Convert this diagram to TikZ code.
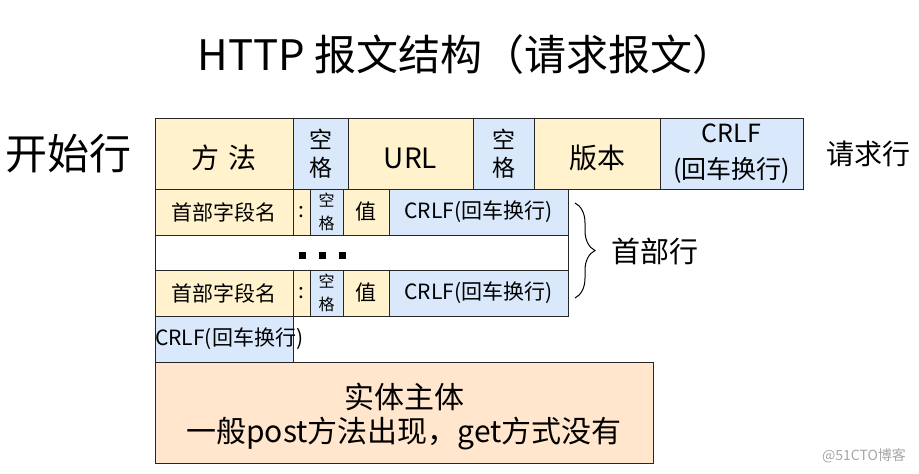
\documentclass[tikz,border=0pt]{standalone}
\usepackage{fontspec}
\setmainfont{Noto Sans CJK SC}
\usetikzlibrary{positioning,decorations.pathreplacing}
\definecolor{yel}{HTML}{FFF2CC}
\definecolor{blu}{HTML}{DAE8FC}
\definecolor{pch}{HTML}{FFE6CC}
\tikzset{
  cell/.style={draw=black!85, line width=1pt, inner sep=0pt, outer sep=0pt, align=center, minimum height=#1},
  ycell/.style={cell=#1, fill=yel},
  bcell/.style={cell=#1, fill=blu},
  fbig/.style={font=\fontsize{28}{32}\selectfont, text height=32pt, text depth=3pt},
  fmid/.style={font=\fontsize{21}{24}\selectfont},
  fsp/.style={font=\fontsize{23}{28}\selectfont},
  fsmall/.style={font=\fontsize{16}{23}\selectfont},
}

\begin{document}
\begin{tikzpicture}[x=1pt, y=-1pt, >=latex]
  \useasboundingbox (0,0) rectangle (919,474);

  \node (title) at (466,55) {\fontsize{42}{46}\selectfont HTTP 报文结构（请求报文）};

  % start line
  \node[ycell=71, minimum width=138, anchor=north west, fbig] (method) at (155,118) {方\hspace{0.35em}法};
  \node[bcell=71, minimum width=55, right=0pt of method, fsp] (sp1) {空\\格};
  \node[ycell=71, minimum width=125, right=0pt of sp1, fbig] (url) {URL};
  \node[bcell=71, minimum width=61, right=0pt of url, fsp] (sp2) {空\\格};
  \node[ycell=71, minimum width=126, right=0pt of sp2, fbig] (ver) {版本};
  \node[bcell=71, minimum width=143, right=0pt of ver, font=\fontsize{25}{36}\selectfont] (crlfa) {CRLF\\(回车换行)};

  % header lines
  \node[ycell=46, minimum width=138, below right=0pt and 0pt of method.south west, fmid] (hname) {首部字段名};
  \node[ycell=46, minimum width=17, right=0pt of hname, fmid] (hcol) {:};
  \node[bcell=46, minimum width=33, right=0pt of hcol, fsmall] (hsp) {空\\格};
  \node[ycell=46, minimum width=46, right=0pt of hsp, fmid] (hval) {值};
  \node[bcell=46, minimum width=179, right=0pt of hval, fmid] (hcrlf) {CRLF(回车换行)};

  \node[cell=35, fill=white, minimum width=413, below right=0pt and 0pt of hname.south west] (dots) {};
  \foreach \x in {302,322,342}
    \fill (\x-3.5,251.5) rectangle +(7,7);

  \node[ycell=46, minimum width=138, below right=0pt and 0pt of dots.south west, fmid] (kname) {首部字段名};
  \node[ycell=46, minimum width=17, right=0pt of kname, fmid] (kcol) {:};
  \node[bcell=46, minimum width=33, right=0pt of kcol, fsmall] (ksp) {空\\格};
  \node[ycell=46, minimum width=46, right=0pt of ksp, fmid] (kval) {值};
  \node[bcell=46, minimum width=179, right=0pt of kval, fmid] (kcrlf) {CRLF(回车换行)};

  % empty line
  \node[bcell=46, minimum width=138, below right=0pt and 0pt of kname.south west] (crlfb) {};
  \node[anchor=west, inner sep=0pt, fmid] (crlfbtext) at (crlfb.west) {CRLF(回车换行)};

  % body
  \node[cell=101, fill=pch, minimum width=498, below right=0pt and 0pt of crlfb.south west,
        font=\fontsize{30}{34}\selectfont, text depth=0pt] (body) {实体主体\\一般post方法出现，get方式没有};

  % labels
  \node[left=20pt of method, font=\fontsize{42}{46}\selectfont] (startl) {开始行};
  \node[right=20pt of crlfa, font=\fontsize{28}{32}\selectfont] (reql) {请求行};
  \coordinate (bt) at (575,203);
  \coordinate (bb) at (575,298);
  \draw[line width=1pt, decorate, decoration={brace, amplitude=20pt}] (bt) -- (bb);
  \node[anchor=west, font=\fontsize{29}{32}\selectfont] (headl) at (608,251) {首部行};

  \node[text=black!35, font=\fontsize{14}{16}\selectfont] (wm) at (864,456) {@51CTO博客};
\end{tikzpicture}
\end{document}
